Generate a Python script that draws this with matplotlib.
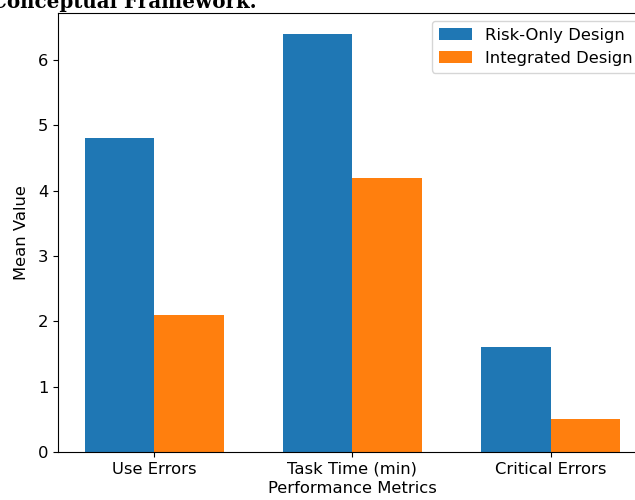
import numpy as np
import matplotlib.pyplot as plt

# data
metrics = ["Use Errors", "Task Time (min)", "Critical Errors"]
risk_only = [4.8, 6.4, 1.6]
integrated = [2.1, 4.2, 0.5]

plt.rcParams["font.size"] = 11.8

x = np.arange(len(metrics))
w = 0.35

fig = plt.figure(figsize=(6.35, 5.0), dpi=100)
# axes runs past the right edge, like the cropped original
ax = fig.add_axes([0.0913, 0.096, 0.9276, 0.878])

ax.bar(x - w / 2, risk_only, w, label="Risk-Only Design")
ax.bar(x + w / 2, integrated, w, label="Integrated Design")

ax.set_xticks(x)
ax.set_xticklabels(metrics)
ax.set_xlabel("Performance Metrics", labelpad=3)
ax.set_ylabel("Mean Value", labelpad=6)
ax.legend(loc="upper right")

# caption text from the page, cut off at the top
fig.text(-0.014, 0.985, "Conceptual Framework.", family="DejaVu Serif",
         weight="bold", fontsize=14.3, va="baseline", ha="left")

fig.savefig("out.png", dpi=100)
